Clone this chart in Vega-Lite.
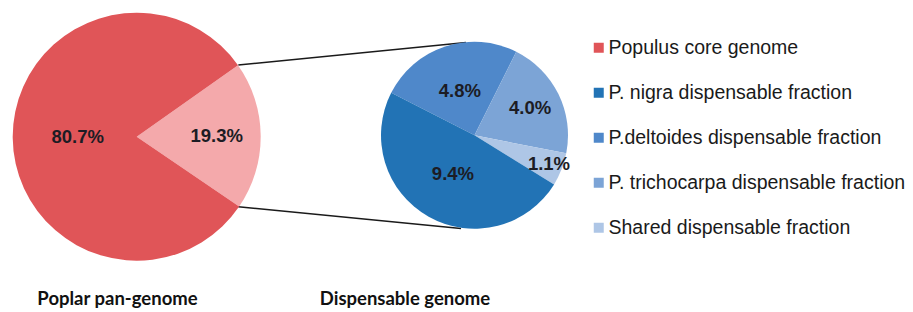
{
  "$schema": "https://vega.github.io/schema/vega-lite/v6.json",
  "width": 913,
  "height": 312,
  "padding": 0,
  "autosize": {"type": "none"},
  "background": "white",
  "config": {"view": {"stroke": null}},
  "resolve": {"scale": {"theta": "independent"}},
  "layer": [
    {
      "data": {"values": [
        {"x1": 238.3, "y1": 65, "x2": 466, "y2": 42.5},
        {"x1": 238.3, "y1": 206.7, "x2": 461, "y2": 228.5}
      ]},
      "mark": {"type": "rule", "color": "#1a1a1a", "strokeWidth": 1.6},
      "encoding": {
        "x": {"field": "x1", "type": "quantitative", "scale": {"domain": [0, 913]}, "axis": null},
        "x2": {"field": "x2"},
        "y": {"field": "y1", "type": "quantitative", "scale": {"domain": [0, 312], "reverse": true}, "axis": null},
        "y2": {"field": "y2"}
      }
    },
    {
      "data": {"values": [
        {"segment": "Pan dispensable", "pct": 19.3, "ord": 1, "lbl": "19.3%"},
        {"segment": "Populus core genome", "pct": 80.7, "ord": 2, "lbl": "80.7%"}
      ]},
      "layer": [
        {
          "mark": {"type": "arc", "outerRadius": 124, "stroke": null},
          "encoding": {
            "x": {"datum": 136.7, "type": "quantitative", "scale": {"domain": [0, 913]}, "axis": null},
            "y": {"datum": 136.7, "type": "quantitative", "scale": {"domain": [0, 312], "reverse": true}, "axis": null},
            "theta": {"field": "pct", "type": "quantitative", "stack": true, "scale": {"range": [0.9564, 7.2396]}},
            "order": {"field": "ord", "type": "quantitative"},
            "color": {
              "field": "segment",
              "type": "nominal",
              "scale": {
                "domain": ["Populus core genome", "P. nigra dispensable fraction", "P.deltoides dispensable fraction", "P. trichocarpa dispensable fraction", "Shared dispensable fraction", "Pan dispensable"],
                "range": ["#E05558", "#2273B5", "#4F88CA", "#7CA4D6", "#AEC6E6", "#F4A9AB"]
              },
              "legend": {
                "values": ["Populus core genome", "P. nigra dispensable fraction", "P.deltoides dispensable fraction", "P. trichocarpa dispensable fraction", "Shared dispensable fraction"],
                "title": null,
                "orient": "none",
                "legendX": 589,
                "legendY": 38,
                "padding": 0,
                "symbolType": "square",
                "symbolSize": 100,
                "symbolStrokeWidth": 0,
                "symbolOpacity": 1,
                "labelFont": "Liberation Sans",
                "labelFontSize": 19.5,
                "labelColor": "#1a1a1a",
                "labelOffset": 0,
                "labelLimit": 400,
                "rowPadding": 24
              }
            }
          }
        },
        {
          "mark": {"type": "text", "font": "Liberation Sans", "fontWeight": "bold", "fontSize": 18.5, "color": "#1c1c24", "radius": {"expr": "datum.pct > 50 ? 59 : 80"}},
          "encoding": {
            "x": {"datum": 136.7, "type": "quantitative", "scale": {"domain": [0, 913]}, "axis": null},
            "y": {"datum": 136.7, "type": "quantitative", "scale": {"domain": [0, 312], "reverse": true}, "axis": null},
            "theta": {"field": "pct", "type": "quantitative", "stack": true, "scale": {"range": [0.9564, 7.2396]}},
            "order": {"field": "ord", "type": "quantitative"},
            "text": {"field": "lbl", "type": "nominal"}
          }
        }
      ]
    },
    {
      "data": {"values": [
        {"segment": "P.deltoides dispensable fraction", "pct": 4.8, "ord": 1, "lbl": "4.8%"},
        {"segment": "P. trichocarpa dispensable fraction", "pct": 4.0, "ord": 2, "lbl": "4.0%"},
        {"segment": "Shared dispensable fraction", "pct": 1.1, "ord": 3, "lbl": "1.1%"},
        {"segment": "P. nigra dispensable fraction", "pct": 9.4, "ord": 4, "lbl": "9.4%"}
      ]},
      "layer": [
        {
          "mark": {"type": "arc", "outerRadius": 93.5, "stroke": null},
          "encoding": {
            "x": {"datum": 474.5, "type": "quantitative", "scale": {"domain": [0, 913]}, "axis": null},
            "y": {"datum": 135.3, "type": "quantitative", "scale": {"domain": [0, 312], "reverse": true}, "axis": null},
            "theta": {"field": "pct", "type": "quantitative", "stack": true, "scale": {"range": [-1.0996, 5.1836]}},
            "order": {"field": "ord", "type": "quantitative"},
            "color": {"field": "segment", "type": "nominal"}
          }
        },
        {
          "mark": {"type": "text", "font": "Liberation Sans", "fontWeight": "bold", "fontSize": 18.5, "color": "#1c1c24", "radius": {"expr": "datum.pct == 9.4 ? 44 : datum.pct == 4.8 ? 47 : datum.pct == 4 ? 62 : 80"}},
          "encoding": {
            "x": {"datum": 474.5, "type": "quantitative", "scale": {"domain": [0, 913]}, "axis": null},
            "y": {"datum": 135.3, "type": "quantitative", "scale": {"domain": [0, 312], "reverse": true}, "axis": null},
            "theta": {"field": "pct", "type": "quantitative", "stack": true, "scale": {"range": [-1.0996, 5.1836]}},
            "order": {"field": "ord", "type": "quantitative"},
            "text": {"field": "lbl", "type": "nominal"}
          }
        }
      ]
    },
    {
      "data": {"values": [{"title": "Poplar pan-genome"}]},
      "mark": {"type": "text", "font": "Lato", "fontWeight": "bold", "fontSize": 18.5, "color": "#111111", "baseline": "alphabetic"},
      "encoding": {
        "x": {"datum": 117.5, "type": "quantitative", "scale": {"domain": [0, 913]}, "axis": null},
        "y": {"datum": 305, "type": "quantitative", "scale": {"domain": [0, 312], "reverse": true}, "axis": null},
        "text": {"field": "title", "type": "nominal"}
      }
    },
    {
      "data": {"values": [{"title": "Dispensable genome"}]},
      "mark": {"type": "text", "font": "Lato", "fontWeight": "bold", "fontSize": 18.5, "color": "#111111", "baseline": "alphabetic"},
      "encoding": {
        "x": {"datum": 405, "type": "quantitative", "scale": {"domain": [0, 913]}, "axis": null},
        "y": {"datum": 305, "type": "quantitative", "scale": {"domain": [0, 312], "reverse": true}, "axis": null},
        "text": {"field": "title", "type": "nominal"}
      }
    }
  ]
}
